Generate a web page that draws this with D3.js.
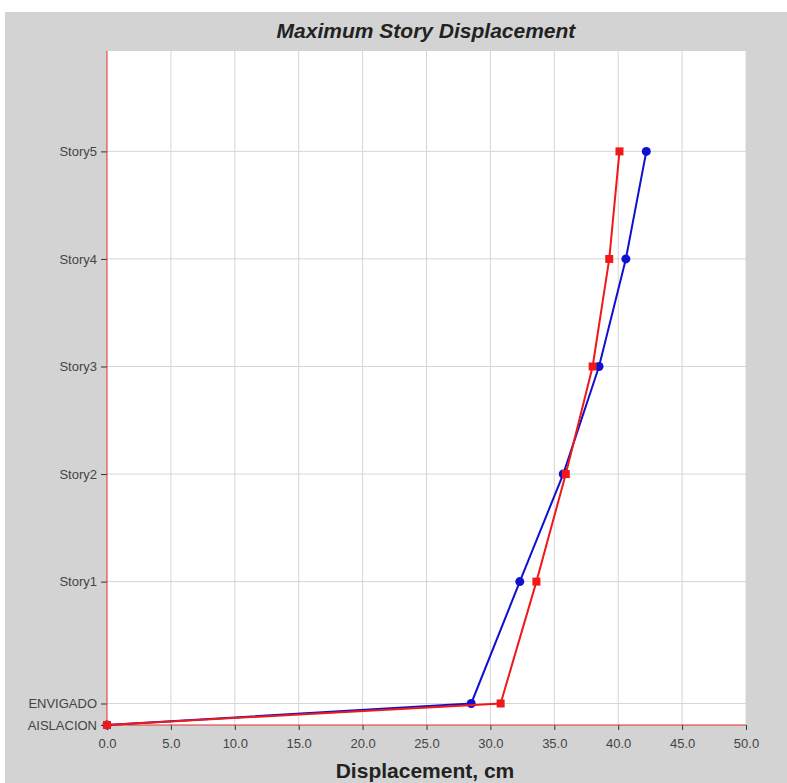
<!DOCTYPE html>
<html>
<head>
<meta charset="utf-8">
<script src="https://cdn.jsdelivr.net/npm/d3@7"></script>
<style>
  body { margin: 0; background: #fff; }
  svg { display: block; font-family: "Liberation Sans", Arial, sans-serif; }
</style>
</head>
<body>
<svg id="chart" width="787" height="783"></svg>
<script>
// story names and elevations (m)
const stories = ["AISLACION", "ENVIGADO", "Story1", "Story2", "Story3", "Story4", "Story5"];
const elevations = [0, 0.6, 4, 7, 10, 13, 16];
// displacement per story, cm
const dispBlue = [0, 28.5, 32.3, 35.7, 38.5, 40.6, 42.2];
const dispRed = [0, 30.8, 33.6, 35.9, 38.0, 39.3, 40.1];
const xTicks = [0, 5, 10, 15, 20, 25, 30, 35, 40, 45, 50];

const svg = d3.select("#chart");
const W = 787, H = 783;
const margin = { left: 107, right: 41, top: 51, bottom: 58 };

svg.append("rect").attr("x", 5).attr("y", 12).attr("width", W - 5).attr("height", H - 12)
  .attr("fill", "#d3d3d3");

const x = d3.scaleLinear().domain([0, 50]).range([margin.left, W - margin.right]);
const y = d3.scaleLinear().domain([0, 18.8]).range([H - margin.bottom, margin.top]);

svg.append("rect")
  .attr("x", x(0)).attr("y", y(18.8))
  .attr("width", x(50) - x(0)).attr("height", y(0) - y(18.8))
  .attr("fill", "#fff");

// grid
svg.append("g").selectAll("line").data(xTicks.slice(1)).join("line")
  .attr("x1", d => x(d)).attr("x2", d => x(d))
  .attr("y1", y(18.8)).attr("y2", y(0))
  .attr("stroke", "#d6d6d6").attr("stroke-width", 1);
svg.append("g").selectAll("line").data(elevations.slice(1)).join("line")
  .attr("x1", x(0)).attr("x2", x(50))
  .attr("y1", d => y(d)).attr("y2", d => y(d))
  .attr("stroke", "#d6d6d6").attr("stroke-width", 1);

// axes
const xAxis = svg.append("g").attr("transform", `translate(0,${y(0)})`)
  .call(d3.axisBottom(x).tickValues(xTicks).tickFormat(d3.format(".1f")).tickSize(5).tickPadding(9));
xAxis.select(".domain").remove();
xAxis.selectAll("line").attr("stroke", "#333");
xAxis.selectAll("text").attr("font-size", 13).attr("fill", "#444").attr("font-family", "Liberation Sans, Arial");

const yAxis = svg.append("g").attr("transform", `translate(${x(0)},0)`)
  .call(d3.axisLeft(y).tickValues(elevations).tickFormat((d, i) => stories[i]).tickSize(6).tickPadding(4));
yAxis.select(".domain").remove();
yAxis.selectAll("line").attr("stroke", "#333");
yAxis.selectAll("text").attr("font-size", 13).attr("fill", "#444").attr("font-family", "Liberation Sans, Arial");

svg.append("line").attr("x1", x(0)).attr("x2", x(0)).attr("y1", y(18.8)).attr("y2", y(0))
  .attr("stroke", "#e03030").attr("stroke-width", 1);
svg.append("line").attr("x1", x(0)).attr("x2", x(50)).attr("y1", y(0)).attr("y2", y(0))
  .attr("stroke", "#e03030").attr("stroke-width", 1);

// series
const line = d3.line().x(d => x(d[0])).y(d => y(d[1]));
const blueData = dispBlue.map((d, i) => [d, elevations[i]]);
const redData = dispRed.map((d, i) => [d, elevations[i]]);

svg.append("path").datum(blueData).attr("d", line)
  .attr("fill", "none").attr("stroke", "#1010d0").attr("stroke-width", 2);
svg.append("g").selectAll("circle").data(blueData).join("circle")
  .attr("cx", d => x(d[0])).attr("cy", d => y(d[1])).attr("r", 4.5)
  .attr("fill", "#1010d0");

svg.append("path").datum(redData).attr("d", line)
  .attr("fill", "none").attr("stroke", "#f01818").attr("stroke-width", 2);
svg.append("g").selectAll("rect").data(redData).join("rect")
  .attr("x", d => x(d[0]) - 4).attr("y", d => y(d[1]) - 4)
  .attr("width", 8).attr("height", 8)
  .attr("fill", "#f01818");

// titles
svg.append("text").attr("x", 426).attr("y", 38).attr("text-anchor", "middle")
  .attr("font-size", 21).attr("font-weight", "bold").attr("font-style", "italic")
  .attr("fill", "#222").text("Maximum Story Displacement");
svg.append("text").attr("x", 425).attr("y", 778).attr("text-anchor", "middle")
  .attr("font-size", 21).attr("font-weight", "bold")
  .attr("fill", "#222").text("Displacement, cm");
</script>
</body>
</html>
